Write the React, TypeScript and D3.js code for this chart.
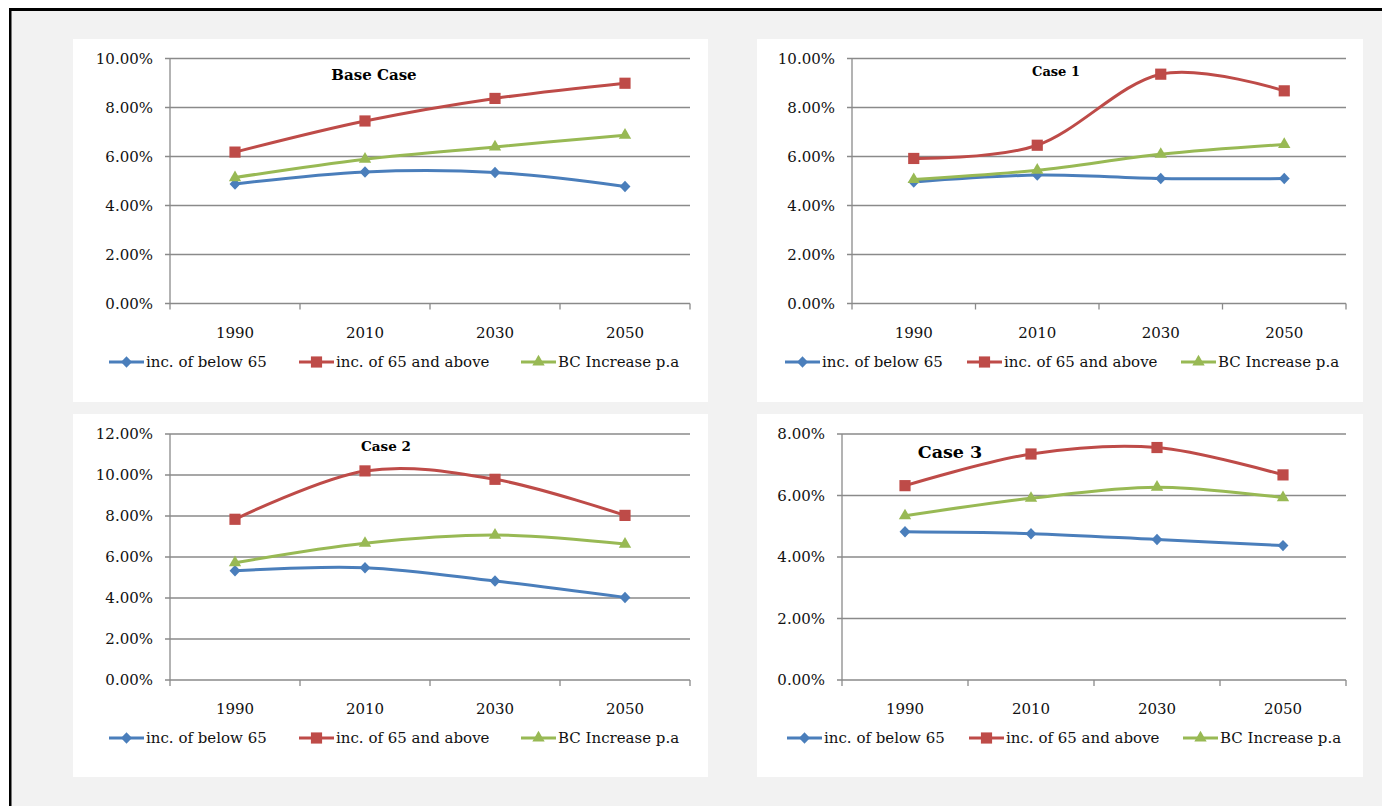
import React from "react";
import * as d3 from "d3";

const years = ["1990", "2010", "2030", "2050"];
const seriesNames = ["inc. of below 65", "inc. of 65 and above", "BC Increase p.a"];
const seriesColors = ["#4a7ebb", "#be4b48", "#98b954"];

const baseBelow = [4.88, 5.37, 5.35, 4.78];
const baseAbove = [6.18, 7.45, 8.37, 8.99];
const baseBC = [5.14, 5.89, 6.39, 6.87];

const case1Below = [4.96, 5.24, 5.1, 5.1];
const case1Above = [5.92, 6.46, 9.36, 8.68];
const case1BC = [5.06, 5.44, 6.09, 6.49];

const case2Below = [5.33, 5.48, 4.83, 4.03];
const case2Above = [7.84, 10.2, 9.79, 8.03];
const case2BC = [5.72, 6.67, 7.07, 6.63];

const case3Below = [4.82, 4.76, 4.57, 4.37];
const case3Above = [6.32, 7.35, 7.56, 6.67];
const case3BC = [5.34, 5.91, 6.27, 5.93];

const titles = ["Base Case", "Case 1", "Case 2", "Case 3"];
const yMaxes = [10, 10, 12, 8];

const FONT = "'DejaVu Serif', 'Liberation Serif', serif";

type Panel = {
  title: string;
  series: number[][];
  yMax: number;
  bx: number; by: number; bw: number; bh: number;
  x0: number; x1: number; yTop: number; yBot: number;
  titleX: number; titleY: number; titleSize: number;
  legendY: number; legendX: number[];
};

const panels: Panel[] = [
  {
    title: titles[0], series: [baseBelow, baseAbove, baseBC], yMax: yMaxes[0],
    bx: 73, by: 39, bw: 635, bh: 363,
    x0: 170, x1: 690, yTop: 58.5, yBot: 303.5,
    titleX: 374, titleY: 80, titleSize: 15,
    legendY: 362, legendX: [109, 299, 521],
  },
  {
    title: titles[1], series: [case1Below, case1Above, case1BC], yMax: yMaxes[1],
    bx: 757, by: 39, bw: 606, bh: 363,
    x0: 852, x1: 1346, yTop: 58.5, yBot: 303.5,
    titleX: 1056, titleY: 76, titleSize: 13,
    legendY: 362, legendX: [785, 967, 1181],
  },
  {
    title: titles[2], series: [case2Below, case2Above, case2BC], yMax: yMaxes[2],
    bx: 73, by: 414, bw: 635, bh: 363,
    x0: 170, x1: 690, yTop: 434, yBot: 680,
    titleX: 386, titleY: 451, titleSize: 13.5,
    legendY: 738, legendX: [109, 299, 521],
  },
  {
    title: titles[3], series: [case3Below, case3Above, case3BC], yMax: yMaxes[3],
    bx: 757, by: 414, bw: 606, bh: 363,
    x0: 842, x1: 1346, yTop: 434, yBot: 680,
    titleX: 950, titleY: 458, titleSize: 17.5,
    legendY: 738, legendX: [787, 969, 1183],
  },
];

const diamondType = {
  draw(context: any, size: number) {
    const r = Math.sqrt(size) / 2;
    context.moveTo(0, -r);
    context.lineTo(r * 0.95, 0);
    context.lineTo(0, r);
    context.lineTo(-r * 0.95, 0);
    context.closePath();
  },
};

const markerPaths = [
  d3.symbol().type(diamondType as any).size(132)(),
  d3.symbol().type(d3.symbolSquare).size(125)(),
  d3.symbol().type(d3.symbolTriangle).size(66)(),
];

function ChartPanel({ p }: { p: Panel }) {
  const x = d3.scaleBand<string>().domain(years).range([p.x0, p.x1]).padding(0);
  const y = d3.scaleLinear().domain([0, p.yMax]).range([p.yBot, p.yTop]);
  const yTicks = d3.range(0, p.yMax + 0.001, 2);
  const line = d3
    .line<number>()
    .x((_, i) => (x(years[i]) as number) + x.bandwidth() / 2)
    .y((v) => y(v))
    .curve(d3.curveCardinal.tension(0));
  const xEdges = years.map((yr) => x(yr) as number).concat([p.x1]);
  const gridColor = "#8a8a8a";
  const textColor = "#111";
  return (
    <g>
      <rect x={p.bx} y={p.by} width={p.bw} height={p.bh} fill="#ffffff" />
      {yTicks.map((t) => (
        <g key={t}>
          <line x1={p.x0 - 5} x2={p.x1} y1={y(t)} y2={y(t)} stroke={gridColor} strokeWidth={1.3} />
          <text
            x={p.x0 - 17}
            y={y(t)}
            dy="0.35em"
            textAnchor="end"
            fontFamily={FONT}
            fontSize={15}
            fill={textColor}
          >
            {d3.format(".2f")(t) + "%"}
          </text>
        </g>
      ))}
      <line x1={p.x0} x2={p.x0} y1={p.yTop} y2={p.yBot} stroke={gridColor} strokeWidth={1.3} />
      {xEdges.map((xe, i) => (
        <line key={i} x1={xe} x2={xe} y1={p.yBot} y2={p.yBot + 6} stroke={gridColor} strokeWidth={1.3} />
      ))}
      {years.map((yr) => (
        <text
          key={yr}
          x={(x(yr) as number) + x.bandwidth() / 2}
          y={p.yBot + 34}
          textAnchor="middle"
          fontFamily={FONT}
          fontSize={15}
          fill={textColor}
        >
          {yr}
        </text>
      ))}
      {p.series.map((vals, si) => (
        <g key={si}>
          <path d={line(vals) as string} fill="none" stroke={seriesColors[si]} strokeWidth={3} />
          {vals.map((v, i) => (
            <path
              key={i}
              d={markerPaths[si] as string}
              transform={`translate(${(x(years[i]) as number) + x.bandwidth() / 2},${y(v)})`}
              fill={seriesColors[si]}
            />
          ))}
        </g>
      ))}
      <text
        x={p.titleX}
        y={p.titleY}
        textAnchor="middle"
        fontFamily={FONT}
        fontWeight="bold"
        fontSize={p.titleSize}
        fill="#000"
      >
        {p.title}
      </text>
      {seriesNames.map((name, si) => {
        const lx = p.legendX[si];
        return (
          <g key={name}>
            <line x1={lx} x2={lx + 35} y1={p.legendY} y2={p.legendY} stroke={seriesColors[si]} strokeWidth={3} />
            <path
              d={markerPaths[si] as string}
              transform={`translate(${lx + 17.5},${p.legendY})`}
              fill={seriesColors[si]}
            />
            <text
              x={lx + 37}
              y={p.legendY}
              dy="0.35em"
              fontFamily={FONT}
              fontSize={15}
              fill={textColor}
            >
              {name}
            </text>
          </g>
        );
      })}
    </g>
  );
}

export default function App() {
  React.useEffect(() => {
    document.body.style.overflow = "hidden";
  }, []);
  return (
    <svg
      width={1382}
      height={806}
      style={{ position: "absolute", left: 0, top: 0, display: "block" }}
    >
      <rect x={0} y={0} width={1382} height={806} fill="#ffffff" />
      <rect x={9} y={8} width={1373} height={798} fill="#f2f2f2" />
      <rect x={9} y={8} width={1373} height={3} fill="#000" />
      <rect x={9} y={8} width={2.5} height={798} fill="#000" />
      {panels.map((p, i) => (
        <ChartPanel key={i} p={p} />
      ))}
    </svg>
  );
}
